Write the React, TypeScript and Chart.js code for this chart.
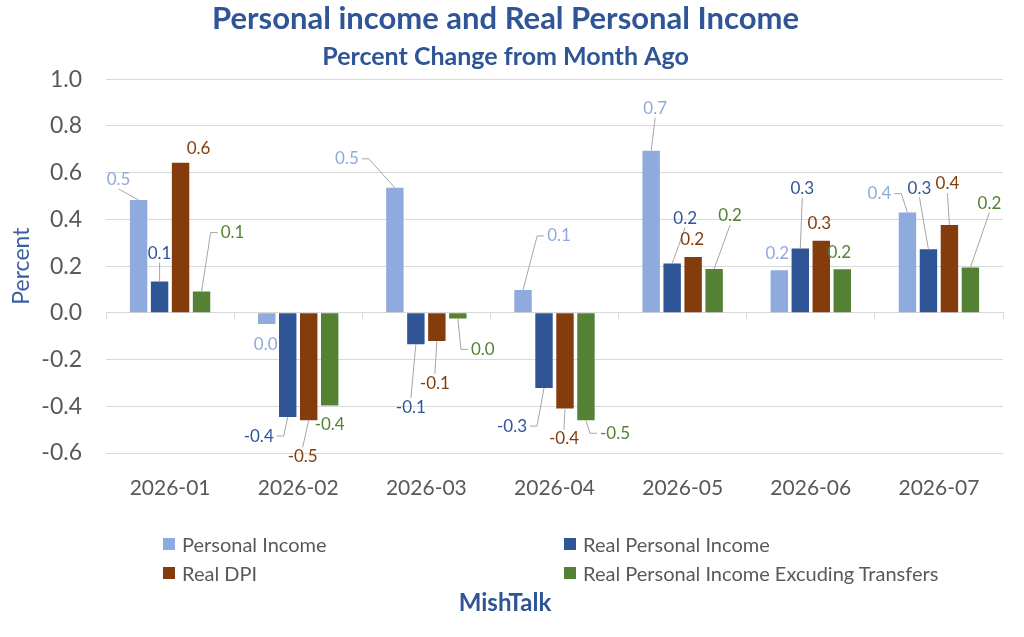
import React, { useEffect, useRef } from 'react';
import Chart from 'chart.js/auto';

const months = ['2026-01', '2026-02', '2026-03', '2026-04', '2026-05', '2026-06', '2026-07'];
const personalIncome = [0.483, -0.048, 0.535, 0.098, 0.694, 0.182, 0.429];
const realPersonalIncome = [0.134, -0.446, -0.134, -0.322, 0.211, 0.275, 0.272];
const realDpi = [0.642, -0.46, -0.121, -0.41, 0.239, 0.308, 0.376];
const realExTransfers = [0.091, -0.397, -0.024, -0.46, 0.188, 0.187, 0.194];

const seriesNames = ['Personal Income', 'Real Personal Income', 'Real DPI', 'Real Personal Income Excuding Transfers'];
const colors = ['#8faadc', '#2f5597', '#843c0c', '#548235'];

const yMin = -0.6;
const yMax = 1.0;
const yStep = 0.2;

// where each value label sits relative to the bar end: [dx, dy, draw leader line]
const labelSpots = [
  [[-20, -20, 1], [-1, 20, 0], [-48, -29, 1], [36, -54, 1], [4, -42, 1], [-2, -17, 0], [-28, -19, 1]],
  [[0, -28, 1], [-29, 19, 1], [-5, 63, 1], [-32, 38, 1], [13, -45, 1], [2, -60, 1], [-9, -61, 1]],
  [[18, -14, 0], [-6, 36, 1], [-2, 42, 1], [-1, 30, 1], [-1, -17, 0], [-2, -17, 0], [-2, -41, 1]],
  [[31, -59, 1], [0, 19, 0], [25, 31, 1], [29, 13, 1], [16, -53, 1], [-3, -17, 0], [19, -64, 1]],
];

const fmt = (v: number) => {
  const r = Number(v.toFixed(1));
  return r === 0 ? '0.0' : r.toFixed(1);
};

const barLabels = {
  id: 'barLabels',
  afterDatasetsDraw(chart: any) {
    const ctx = chart.ctx;
    ctx.save();
    ctx.font = '17px Lato';
    ctx.textAlign = 'center';
    ctx.textBaseline = 'middle';
    chart.data.datasets.forEach((ds: any, di: number) => {
      const meta = chart.getDatasetMeta(di);
      meta.data.forEach((bar: any, i: number) => {
        const [dx, dy, leader] = labelSpots[di][i];
        const bx = bar.x;
        const by = bar.y;
        const lx = bx + dx;
        const ly = by + dy;
        const text = fmt(ds.data[i]);
        const w = ctx.measureText(text).width;
        if (leader) {
          ctx.beginPath();
          ctx.strokeStyle = '#a6a6a6';
          ctx.lineWidth = 1;
          if (Math.abs(dx) > w / 2 + 10) {
            const s = Math.sign(bx - lx);
            const sx = lx + s * (w / 2 + 3);
            ctx.moveTo(sx, ly);
            ctx.lineTo(sx + s * 7, ly);
            ctx.lineTo(bx, by);
          } else {
            const s = Math.sign(by - ly);
            ctx.moveTo(lx, ly + s * 9);
            ctx.lineTo(bx, by);
          }
          ctx.stroke();
        }
        ctx.fillStyle = colors[di];
        ctx.fillText(text, lx, ly);
      });
    });
    ctx.restore();
  },
};

const App: React.FC = () => {
  const canvasRef = useRef<HTMLCanvasElement>(null);

  useEffect(() => {
    if (!canvasRef.current) return;
    Chart.defaults.font.family = 'Lato';
    const values = [personalIncome, realPersonalIncome, realDpi, realExTransfers];
    const chart = new Chart(canvasRef.current, {
      type: 'bar',
      data: {
        labels: months,
        datasets: values.map((d, i) => ({
          label: seriesNames[i],
          data: d,
          backgroundColor: colors[i],
          xAxisID: 'x',
          categoryPercentage: 0.655,
          barPercentage: 0.83,
        })),
      },
      options: {
        animation: false,
        responsive: true,
        maintainAspectRatio: false,
        layout: { padding: { left: 8, right: 21, top: 0, bottom: 124 } },
        plugins: {
          legend: { display: false },
          tooltip: { enabled: false },
          title: {
            display: true,
            text: 'Personal income and Real Personal Income',
            color: '#2f5597',
            font: { size: 31, weight: 'bold' },
            padding: { top: 0, bottom: 5 },
          },
          subtitle: {
            display: true,
            text: 'Percent Change from Month Ago',
            color: '#2f5597',
            font: { size: 25, weight: 'bold' },
            padding: { top: 0, bottom: 7 },
          },
        },
        scales: {
          x: {
            grid: { display: false },
            border: { display: false },
            ticks: { color: '#595959', font: { size: 21 }, padding: 15 },
            afterFit: (s: any) => { s.height = 60; },
          },
          x2: {
            type: 'category',
            labels: months,
            position: { y: 0 },
            grid: { drawOnChartArea: false, drawTicks: true, tickLength: 6, color: '#d9d9d9', offset: true },
            border: { display: true, color: '#d9d9d9' },
            ticks: { display: false },
          },
          y: {
            min: yMin,
            max: yMax,
            ticks: {
              stepSize: yStep,
              color: '#595959',
              font: { size: 23 },
              padding: 24,
              callback: (v: any) => Number(v).toFixed(1),
            },
            grid: { color: '#d9d9d9', drawTicks: false },
            border: { display: false },
            title: { display: true, text: 'Percent', color: '#3c5fa8', font: { size: 23 }, padding: 0 },
            afterFit: (s: any) => { s.width = 98; },
          },
        },
      },
      plugins: [barLabels],
    });
    return () => chart.destroy();
  }, []);

  const legendCols = [163, 564];
  const legendRows = [544, 573];

  return (
    <div style={{ position: 'absolute', left: 0, top: 0, width: 1024, height: 637, background: '#fff' }}>
      <canvas ref={canvasRef} />
      {seriesNames.map((name, i) => (
        <div
          key={name}
          style={{
            position: 'absolute',
            left: legendCols[i % 2],
            top: legendRows[Math.floor(i / 2)] - 12,
            height: 24,
            display: 'flex',
            alignItems: 'center',
            fontFamily: 'Lato',
            fontSize: 20,
            color: '#595959',
            whiteSpace: 'nowrap',
          }}
        >
          <span style={{ width: 12, height: 12, background: colors[i], marginRight: 7, display: 'inline-block' }} />
          {name}
        </div>
      ))}
      <div
        style={{
          position: 'absolute',
          left: 0,
          width: 1010,
          top: 587,
          textAlign: 'center',
          fontFamily: 'Lato',
          fontWeight: 'bold',
          fontSize: 24,
          color: '#2f5597',
        }}
      >
        MishTalk
      </div>
    </div>
  );
};

export default App;
